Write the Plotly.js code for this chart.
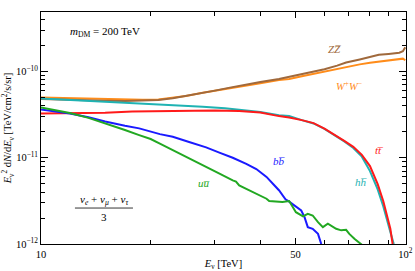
<!DOCTYPE html>
<html><head><meta charset="utf-8">
<script src="https://cdn.plot.ly/plotly-3.0.1.min.js"></script>
<style>html,body{margin:0;padding:0;background:#fff}#c{width:415px;height:271px}</style>
</head><body><div id="c"></div>
<script>
// Energies in TeV, fluxes in units of 1e-12 TeV/cm^2/s/sr
const zzE = [10,11,12,13.5,15,17,19,21,23,25,27.8,30,33,36.6,40,45,48,52,55.6,60,65,68.8,75,80,84.6,90,96.3,98.5,100];
const zzV = [47.9,47.2,46.6,46.0,45.8,45.5,45.6,46.6,49.0,52.0,56.6,60,65,71.0,75.5,82,87,93,99.5,106,117,127,138,147,156,160,165,172,191];
const wwE = [10,11,12,13.5,15,17,19,21,23,25,27.8,30,33,36.6,40,45,48,52,55.6,60,65,68.8,75,80,84.6,90,96.3,98.5,100];
const wwV = [50.0,49.5,49.0,48.3,47.9,47.3,47.0,47.5,49.5,52.0,56.6,59.5,64,68.4,73,79.6,82,88,93.5,100,108,114,121,126,130,134,140,141,135];
const hhE = [10,12,15,18,21.2,25,27.8,32,36.6,40,45,48,52,56,60,64,68,72,76,80,84,87,89,91,93];
const hhV = [48.8,47.0,45.0,43.3,41.8,40.0,39.0,37.5,35.7,34.0,31.2,30.4,27.3,25.0,21.6,18.4,15.5,13.0,10.3,7.0,4.3,2.75,2.0,1.38,1.0];
const ttE = [10,12,15,17.8,20,25,30,35,40,45,48,52,56,60,64,68,72,76,80,84,87,89,91,92.3];
const ttV = [32.7,33.0,33.3,34.3,34.5,35.0,35.2,34.8,33.5,30.4,29.3,27.3,25.2,21.8,18.6,15.7,13.4,10.8,8.0,4.95,3.15,2.22,1.50,1.0];
const bbE = [10,11,12,13.5,15,17,18.6,21.2,23,25.5,28.4,31,33.6,36.6,39,41.6,42.3,43.5,45,46.9,48,50.1,51.8,52.9,54.0,55.7,57.6,58.8];
const bbV = [36.3,34.2,32.5,29.5,26.3,23.5,21.9,18.8,17.5,15.2,13.2,11.4,10.0,8.5,7.4,6.0,5.5,4.9,4.2,3.3,3.1,2.7,2.45,2.05,1.57,1.50,1.31,1.0];
const uuE = [10,11,12,13.5,15,17,18.6,20,21.2,23,25.5,28.4,31,33.6,34.3,35,37,39,41.6,42.3,46,48,49.1,50.1,52.4,54,55.7,57.6,59.4,61.3,64.6,66.7,68.8,70.2,72.5,75,76];
const uuV = [38.4,35.5,33.0,29.0,25.2,21.0,18.3,16.5,14.6,12.3,10.0,7.81,6.5,5.47,5.3,4.79,4.3,3.83,3.35,3.15,3.06,3.15,2.73,2.34,2.09,2.24,2.14,1.79,1.57,1.72,1.50,1.44,1.46,1.31,1.15,1.02,0.98];
const unit = 1e-12;

const xTickVals = [10,50,100];
const xTickText = ["10","50","10<sup>2</sup>"];
const xMinorVals = [20,30,40,60,70,80,90];
const yTickVals = [1e-12,1e-11,1e-10];
const yTickText = ["10<sup>\u221212</sup>","10<sup>\u221211</sup>","10<sup>\u221210</sup>"];
const yMinorVals = [2e-12,3e-12,4e-12,5e-12,6e-12,7e-12,8e-12,9e-12,2e-11,3e-11,4e-11,5e-11,6e-11,7e-11,8e-11,9e-11,2e-10,3e-10,4e-10];

const series = [
  {E: wwE, V: wwV, color: '#ff8c1a'},
  {E: zzE, V: zzV, color: '#a0693c'},
  {E: hhE, V: hhV, color: '#1fb3b3'},
  {E: ttE, V: ttV, color: '#ff1a1a'},
  {E: bbE, V: bbV, color: '#1a1aff'},
  {E: uuE, V: uuV, color: '#22a822'}
];
const traces = series.map(s => ({
  x: s.E, y: s.V.map(v => v*unit), type: 'scatter', mode: 'lines',
  line: {color: s.color, width: 2}, hoverinfo: 'skip', showlegend: false
}));

const FONT = 'Liberation Serif';
function ann(x, y, text, color, size) {
  return {xref:'paper', yref:'paper', x:x, y:y, xanchor:'center', yanchor:'middle', showarrow:false,
          text:text, font:{family:FONT, size:size || 10.5, color:color}};
}
const layout = {
  width: 415, height: 271, autosize: false,
  margin: {l: 41, r: 9, t: 12, b: 27},
  paper_bgcolor: '#fff', plot_bgcolor: '#fff',
  font: {family: FONT, size: 10, color: '#000'},
  showlegend: false,
  xaxis: {
    type: 'log', range: [1, 2.002], showgrid: false, zeroline: false,
    showline: true, linecolor: '#000', linewidth: 1, mirror: 'allticks',
    ticks: 'inside', ticklen: 6, tickcolor: '#000', tickwidth: 1,
    tickmode: 'array', tickvals: xTickVals, ticktext: xTickText,
    tickfont: {family: FONT, size: 10.5},
    minor: {tickmode: 'array', tickvals: xMinorVals, ticks: 'inside', ticklen: 4, tickcolor: '#000', showgrid: false},
    title: {text: '<i>E</i><sub>\u03bd</sub> [TeV]', font: {family: FONT, size: 10.5}, standoff: 4}
  },
  yaxis: {
    type: 'log', range: [-12, -9.31], showgrid: false, zeroline: false,
    showline: true, linecolor: '#000', linewidth: 1, mirror: 'allticks',
    ticks: 'inside', ticklen: 7, tickcolor: '#000', tickwidth: 1,
    tickmode: 'array', tickvals: yTickVals, ticktext: yTickText,
    tickfont: {family: FONT, size: 10.5},
    minor: {tickmode: 'array', tickvals: yMinorVals, ticks: 'inside', ticklen: 4, tickcolor: '#000', showgrid: false},
    title: {text: '<i>E</i><sub>\u03bd</sub><sup>2</sup> d<i>N</i>/d<i>E</i><sub>\u03bd</sub> [TeV/cm<sup>2</sup>/s/sr]', font: {family: FONT, size: 10.5}, standoff: 3}
  },
  annotations: [
    {xref:'paper', yref:'paper', x:0.074, y:0.914, xanchor:'left', yanchor:'middle', showarrow:false,
     text:'<i>m</i><sub>DM</sub> = 200 TeV', font:{family:FONT, size:11, color:'#000'}},
    ann(0.804, 0.840, '<i>ZZ\u0305</i>', '#a0693c', 11),
    ann(0.843, 0.685, '<i>W</i><sup>+</sup><i>W</i><sup>\u2212</sup>', '#ff8c1a', 10.5),
    ann(0.927, 0.404, '<i>tt\u0305</i>', '#ff1a1a', 11),
    ann(0.876, 0.266, '<i>hh\u0305</i>', '#1fb3b3', 11),
    ann(0.651, 0.356, '<i>bb\u0305</i>', '#1a1aff', 11),
    ann(0.446, 0.261, '<i>uu\u0305</i>', '#22a822', 11),
    ann(0.172, 0.189, '<i>\u03bd<sub>e</sub></i> + <i>\u03bd<sub>\u03bc</sub></i> + <i>\u03bd<sub>\u03c4</sub></i>', '#000', 11),
    ann(0.172, 0.115, '3', '#000', 11)
  ],
  shapes: [
    {type:'line', xref:'paper', yref:'paper', x0:0.093, x1:0.252, y0:0.155, y1:0.155, line:{color:'#000', width:0.8}}
  ]
};
Plotly.newPlot('c', traces, layout, {staticPlot: true, displayModeBar: false});
</script>
</body></html>
